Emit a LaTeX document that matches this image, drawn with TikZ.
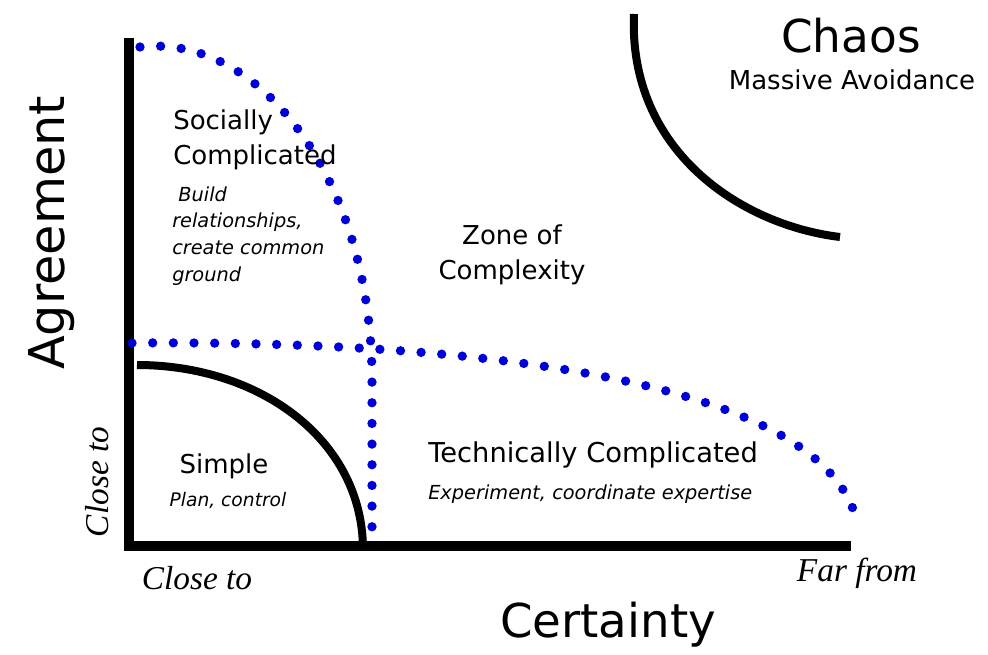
\documentclass[tikz,border=0pt]{standalone}
\usepackage{fontspec}
\setmainfont{DejaVu Sans}
\newfontfamily\serifit{Liberation Serif}
\begin{document}
\begin{tikzpicture}[x=0.75pt,y=-0.75pt,
  axis/.style={line width=8pt,line cap=butt},
  bound/.style={line width=6pt},
  dots/.style={draw=blue!85!black,line width=7pt,line cap=round,dash pattern=on 0pt off 15.5pt},
  big/.style={font=\fontsize{34}{38}\selectfont},
  region/.style={font=\fontsize{19.5}{26}\selectfont,align=left},
  note/.style={font=\fontsize{14.5}{20}\selectfont\itshape,align=left},
  axlab/.style={font=\fontsize{25}{28}\selectfont\serifit\itshape}]
\useasboundingbox (0,0) rectangle (988,655);
% axes
\coordinate (o) at (129,546);
\coordinate (ytop) at (129,38);
\coordinate (xend) at (851,546);
\draw[axis] (ytop) -- (o) -- (xend);
% simple boundary
\coordinate (s1) at (137,365);
\coordinate (s2) at (363,550);
\draw[bound] (s1) .. controls (260,365) and (363,440) .. (s2);
% chaos boundary
\coordinate (c1) at (634,14);
\coordinate (c2) at (840,237);
\draw[bound] (c1) .. controls (628,150) and (740,225) .. (c2);
% dotted boundaries
\coordinate (d1) at (140,47);
\coordinate (d2) at (372,380);
\coordinate (d3) at (372,528);
\draw[dots] (d1) .. controls (260,33) and (372,180) .. (d2) -- (d3);
\coordinate (h1) at (132,343);
\coordinate (h2) at (857,522);
\draw[dots] (h1) .. controls (500,340) and (825,385) .. (h2);
% texts
\node[big] (chaos) at (851,36) {Chaos};
\node[font=\fontsize{19.5}{22}\selectfont] (avoid) at (852,80) {Massive Avoidance};
\node[region,anchor=west,inner sep=0pt] (soc) at (173,140) {Socially\\Complicated};
\node[note,anchor=west,inner sep=0pt] (socn) at (172,236) {\ Build\\relationships,\\create common\\ground};
\node[region,align=center] (zone) at (512,255) {Zone of\\Complexity};
\node[region] (simple) at (224,466) {Simple};
\node[note,font=\fontsize{14}{18}\selectfont\itshape] (simplen) at (228,500) {Plan, control};
\node[region,font=\fontsize{20.5}{26}\selectfont,anchor=west,inner sep=0pt] (tech) at (428,455) {Technically Complicated};
\node[note,anchor=west,inner sep=0pt] (techn) at (428,494) {Experiment, coordinate expertise};
\node[big,font=\fontsize{37}{40}\selectfont,rotate=90] (agree) at (52,233) {Agreement};
\node[axlab,rotate=90] (yclose) at (97,482) {Close to};
\node[axlab] (xclose) at (197,578) {Close to};
\node[axlab] (xfar) at (857,573) {Far from};
\node[big,font=\fontsize{35}{38}\selectfont] (cert) at (608,625) {Certainty};
\end{tikzpicture}
\end{document}
